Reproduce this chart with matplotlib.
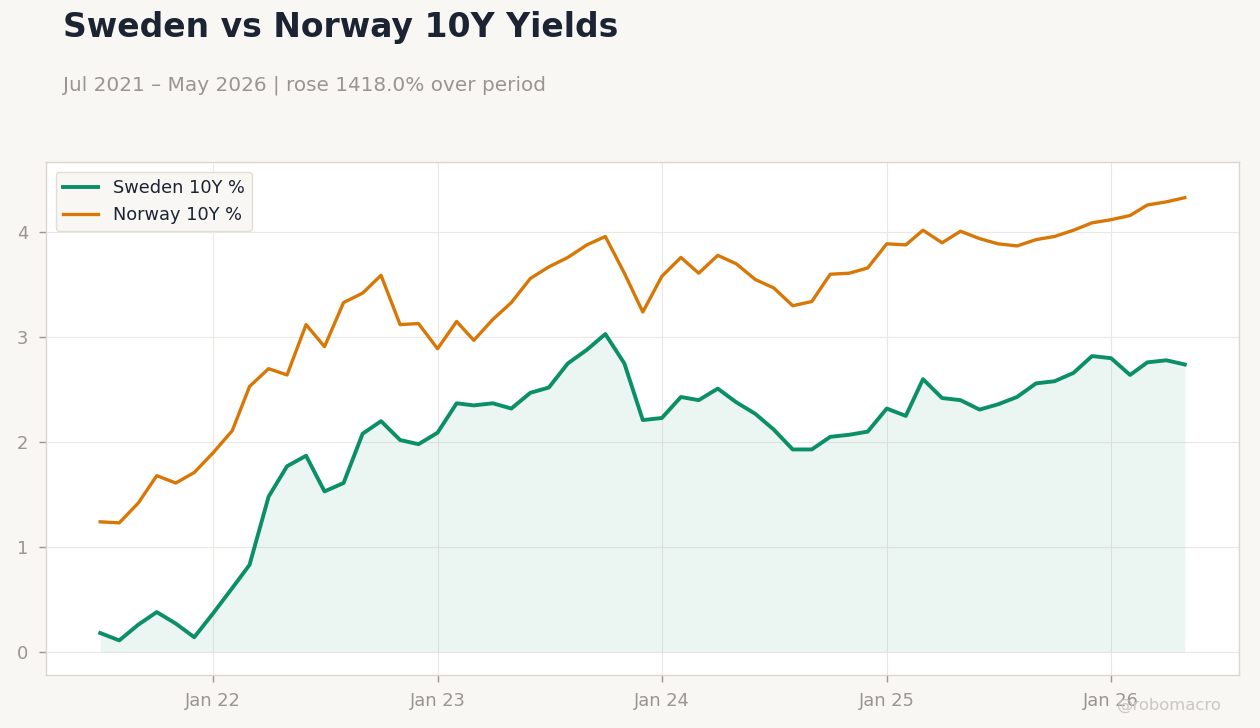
import pandas as pd
import matplotlib.pyplot as plt
import matplotlib.dates as mdates

plt.rcParams['font.family'] = ['DejaVu Sans']

# --- data (monthly) ---
dates = pd.date_range('2021-07-01', '2026-05-01', freq='MS')

sweden = [0.18, 0.11, 0.26, 0.38, 0.27, 0.14, 0.37, 0.61, 0.83, 1.48,
          1.77, 1.87, 1.53, 1.61, 2.08, 2.20, 2.02, 1.98, 2.09, 2.37,
          2.35, 2.37, 2.32, 2.47, 2.52, 2.75, 2.88, 3.03, 2.75, 2.21,
          2.23, 2.43, 2.40, 2.51, 2.38, 2.27, 2.12, 1.93, 1.93, 2.05,
          2.07, 2.10, 2.32, 2.25, 2.60, 2.42, 2.40, 2.31, 2.36, 2.43,
          2.56, 2.58, 2.66, 2.82, 2.80, 2.64, 2.76, 2.78, 2.74]

norway = [1.24, 1.23, 1.42, 1.68, 1.61, 1.71, 1.90, 2.11, 2.53, 2.70,
          2.64, 3.12, 2.91, 3.33, 3.42, 3.59, 3.12, 3.13, 2.89, 3.15,
          2.97, 3.17, 3.33, 3.56, 3.67, 3.76, 3.88, 3.96, 3.61, 3.24,
          3.58, 3.76, 3.61, 3.78, 3.70, 3.55, 3.47, 3.30, 3.34, 3.60,
          3.61, 3.66, 3.89, 3.88, 4.02, 3.90, 4.01, 3.94, 3.89, 3.87,
          3.93, 3.96, 4.02, 4.09, 4.12, 4.16, 4.26, 4.29, 4.33]

labels = ['Sweden 10Y %', 'Norway 10Y %']
title = 'Sweden vs Norway 10Y Yields'
subtitle = 'Jul 2021 \u2013 May 2026 | rose 1418.0% over period'

GREEN = '#0b8f66'
ORANGE = '#d97706'
BG = '#f8f7f4'
SPINE = '#dcd6cc'
MUTED = '#9a9590'

fig = plt.figure(figsize=(12.6, 7.28), dpi=100, facecolor=BG)
ax = fig.add_axes([46 / 1260, 1 - 675 / 728, (1239 - 46) / 1260, (675 - 162) / 728])
ax.set_facecolor('white')

ax.fill_between(dates, sweden, 0, color=GREEN, alpha=0.08, linewidth=0)
ax.plot(dates, sweden, color=GREEN, lw=2.8, label=labels[0])
ax.plot(dates, norway, color=ORANGE, lw=2.4, label=labels[1])

ax.set_ylim(-0.22, 4.67)
ax.set_yticks([0, 1, 2, 3, 4])
ax.xaxis.set_major_locator(mdates.YearLocator(month=1))
ax.xaxis.set_major_formatter(mdates.DateFormatter('Jan %y'))

ax.grid(True, color='#ebe8e4', lw=0.8)
ax.set_axisbelow(True)
for s in ax.spines.values():
    s.set_color(SPINE)
    s.set_linewidth(1.0)
ax.tick_params(colors=MUTED, labelsize=12.9, length=5, width=1)
ax.tick_params(axis='x', pad=7)
ax.tick_params(axis='y', pad=8)

leg = ax.legend(loc='upper left', fontsize=12.8, frameon=True, facecolor=BG,
                edgecolor='#e3ddd4', framealpha=1, handlelength=2.0,
                borderaxespad=0.55)
for t in leg.get_texts():
    t.set_color('#1c2433')

fig.text(63 / 1260, 1 - 28 / 728, title, fontsize=23.8, fontweight='bold',
         color='#1c2433', va='center', ha='left')
fig.text(63 / 1260, 1 - 85 / 728, subtitle, fontsize=14.4, color=MUTED,
         va='center', ha='left')
fig.text(1222 / 1260, 1 - 705 / 728, '@robomacro', fontsize=11.8,
         color='#cbc7c1', va='center', ha='right')

fig.savefig('out.png', dpi=100, facecolor=BG)
